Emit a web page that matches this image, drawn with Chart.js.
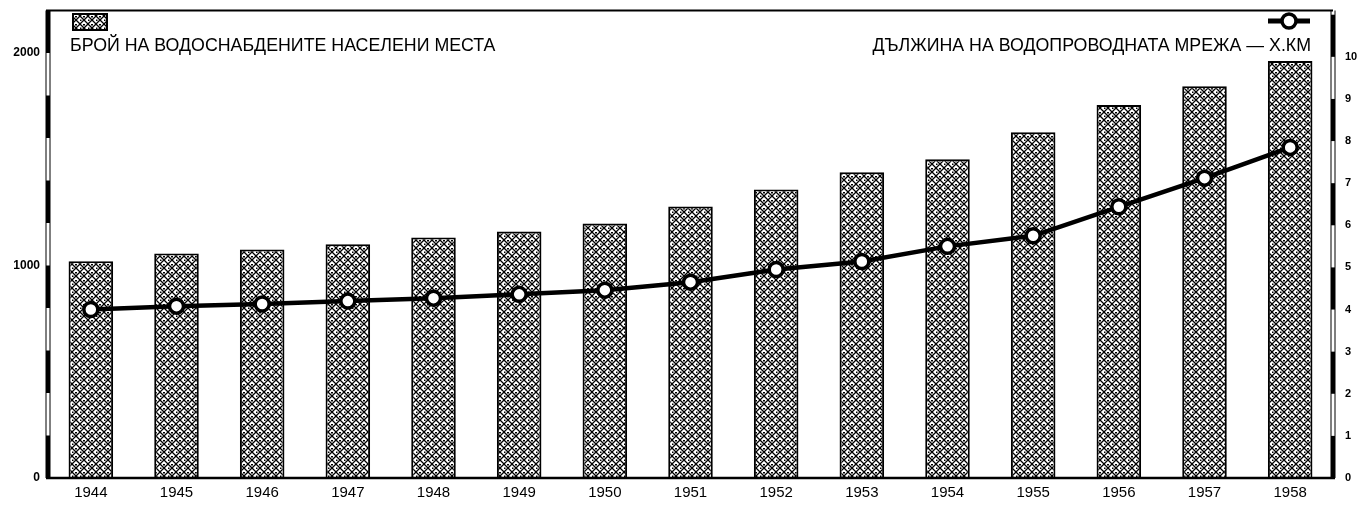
<!DOCTYPE html>
<html>
<head>
<meta charset="utf-8">
<script src="https://cdn.jsdelivr.net/npm/chart.js@4"></script>
<style>
  html, body { margin: 0; padding: 0; background: #fff; }
  .chart-container { width: 1366px; height: 510px; }
</style>
</head>
<body>
<div class="chart-container">
  <canvas id="myChart" width="1366" height="510"></canvas>
</div>
<script>
const years = ['1944', '1945', '1946', '1947', '1948', '1949', '1950', '1951', '1952', '1953', '1954', '1955', '1956', '1957', '1958'];
// number of settlements with water supply (left axis)
const settlements = [1020, 1057, 1075, 1100, 1132, 1160, 1198, 1278, 1358, 1439, 1500, 1627, 1755, 1844, 1962];
// length of the water network, thousand km (right axis)
const networkLength = [4.0, 4.08, 4.13, 4.2, 4.27, 4.36, 4.46, 4.65, 4.95, 5.14, 5.5, 5.75, 6.44, 7.12, 7.85];
const leftTicks = [0, 1000, 2000];
const rightTicks = [0, 1, 2, 3, 4, 5, 6, 7, 8, 9, 10];

const barLabel = 'БРОЙ НА ВОДОСНАБДЕНИТЕ НАСЕЛЕНИ МЕСТА';
const lineLabel = 'ДЪЛЖИНА НА ВОДОПРОВОДНАТА МРЕЖА — Х.КМ';

const FONT = "'Liberation Sans', Arial, sans-serif";

// crosshatch with dots, like the print
const makeHatch = () => {
  const c = document.createElement('canvas');
  c.width = 8; c.height = 8;
  const g = c.getContext('2d');
  g.fillStyle = '#fff';
  g.fillRect(0, 0, 8, 8);
  g.strokeStyle = '#000';
  g.lineWidth = 1.3;
  g.beginPath();
  g.moveTo(-1, 9); g.lineTo(9, -1);
  g.moveTo(-1, -1); g.lineTo(9, 9);
  g.stroke();
  g.fillStyle = '#000';
  g.fillRect(3, 0, 2, 1.5);
  g.fillRect(0, 3.5, 1.5, 1.5);
  return g.createPattern(c, 'repeat');
};
const hatch = makeHatch();

// ruler-like axes, frame and legend
const framePlugin = {
  id: 'frame',
  afterDatasetsDraw(chart) {
    const { ctx, chartArea, scales } = chart;
    const { left, right, top, bottom } = chartArea;
    ctx.save();
    ctx.strokeStyle = '#000';
    ctx.fillStyle = '#000';

    // top border
    ctx.lineWidth = 2;
    ctx.beginPath();
    ctx.moveTo(left - 2, top);
    ctx.lineTo(right, top);
    ctx.stroke();

    // bottom axis
    ctx.lineWidth = 2.5;
    ctx.beginPath();
    ctx.moveTo(left - 2, bottom);
    ctx.lineTo(right + 2, bottom);
    ctx.stroke();

    const ruler = (x, scale, step, max) => {
      ctx.lineWidth = 1;
      ctx.beginPath();
      ctx.moveTo(x - 2, top); ctx.lineTo(x - 2, bottom);
      ctx.moveTo(x + 2, top); ctx.lineTo(x + 2, bottom);
      ctx.stroke();
      for (let v = 0, i = 0; v < max; v += step, i++) {
        if (i % 2 !== 0) continue;
        const y1 = scale.getPixelForValue(v);
        const y2 = scale.getPixelForValue(Math.min(v + step, max));
        ctx.fillRect(x - 2, y2, 4, y1 - y2);
      }
    };
    ruler(left, scales.y, 200, scales.y.max);
    ruler(right, scales.y1, 1, scales.y1.max);

    // legend: bars
    ctx.fillStyle = hatch;
    ctx.fillRect(73, 14, 34, 16);
    ctx.lineWidth = 2;
    ctx.strokeRect(73, 14, 34, 16);
    ctx.fillStyle = '#000';
    ctx.font = '17.8px ' + FONT;
    ctx.textBaseline = 'middle';
    ctx.textAlign = 'left';
    ctx.fillText(barLabel, 70, 46);

    // legend: line
    ctx.lineWidth = 5;
    ctx.beginPath();
    ctx.moveTo(1268, 21); ctx.lineTo(1310, 21);
    ctx.stroke();
    ctx.beginPath();
    ctx.arc(1289, 21, 7, 0, Math.PI * 2);
    ctx.fillStyle = '#fff';
    ctx.fill();
    ctx.lineWidth = 3.5;
    ctx.stroke();
    ctx.fillStyle = '#000';
    ctx.textAlign = 'right';
    ctx.fillText(lineLabel, 1311, 46);
    ctx.restore();
  }
};

const fitY = (width) => (s) => {
  s.width = width;
  s.paddingTop = 0;
  s.paddingBottom = 0;
};

const ctx = document.getElementById('myChart');
new Chart(ctx, {
  data: {
    labels: years,
    datasets: [
      {
        type: 'line',
        label: lineLabel,
        data: networkLength,
        yAxisID: 'y1',
        order: 0,
        borderColor: '#000',
        borderWidth: 4.5,
        tension: 0,
        pointRadius: 7,
        pointBorderWidth: 3.5,
        pointBackgroundColor: '#fff',
        pointBorderColor: '#000',
      },
      {
        type: 'bar',
        label: barLabel,
        data: settlements,
        yAxisID: 'y',
        order: 1,
        backgroundColor: hatch,
        borderColor: '#000',
        borderWidth: 2,
        barPercentage: 0.52,
        categoryPercentage: 1.0,
      },
    ],
  },
  options: {
    responsive: false,
    animation: false,
    layout: { padding: { top: 10, left: 0, right: 0, bottom: 0 } },
    plugins: {
      legend: { display: false },
      tooltip: { enabled: false },
    },
    scales: {
      x: {
        grid: { display: false, drawTicks: false },
        border: { display: false },
        ticks: { color: '#000', padding: 6, font: { family: FONT, size: 15 } },
        afterFit: (s) => { s.height = 32; },
      },
      y: {
        position: 'left',
        min: 0,
        max: 2200,
        grid: { display: false, drawTicks: false },
        border: { display: false },
        ticks: {
          color: '#000', padding: 8, font: { family: FONT, size: 12, weight: 'bold' },
          callback: (v) => String(v),
        },
        afterBuildTicks: (s) => { s.ticks = leftTicks.map(v => ({ value: v })); },
        afterFit: fitY(48),
      },
      y1: {
        position: 'right',
        min: 0,
        max: 11.1,
        grid: { display: false, drawTicks: false },
        border: { display: false },
        ticks: {
          color: '#000', padding: 12, font: { family: FONT, size: 11, weight: 'bold' },
          callback: (v) => String(v),
        },
        afterBuildTicks: (s) => { s.ticks = rightTicks.map(v => ({ value: v })); },
        afterFit: fitY(33),
      },
    },
  },
  plugins: [framePlugin],
});
</script>
</body>
</html>
